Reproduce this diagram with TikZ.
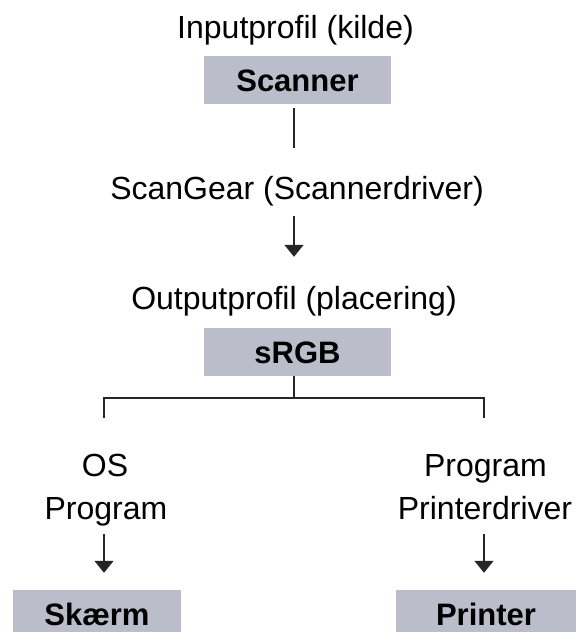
\documentclass[tikz,border=0pt]{standalone}
\usepackage{fontspec}
\setmainfont{Liberation Sans}
\usetikzlibrary{arrows.meta}
\definecolor{boxgray}{RGB}{187,190,202}
\begin{document}
\begin{tikzpicture}[x=1pt,y=-1pt,
  lbl/.style={inner sep=0pt,anchor=base,text height=23pt,text depth=7pt,font=\fontsize{32}{38}\selectfont},
  dev/.style={fill=boxgray,inner sep=0pt,text height=22pt,text depth=0pt,minimum height=48pt,font=\fontsize{31}{37}\selectfont\bfseries},
  link/.style={line width=1.5pt,black!85},
  flow/.style={link,-{Triangle[width=19pt,length=12pt]}}]
\useasboundingbox (0,0) rectangle (576,632);
\coordinate (axis) at (294,0);
\node[lbl] (inprof) at (295.5,38) {Inputprofil (kilde)};
\node[dev,minimum width=187pt] (scanner) at (297.5,80) {Scanner};
\node[lbl] (scangear) at (297,199) {ScanGear (Scannerdriver)};
\node[lbl] (outprof) at (294,309) {Outputprofil (placering)};
\node[dev,minimum width=187pt] (srgb) at (297.5,352) {sRGB};
\coordinate (split) at (294,398);
\coordinate (left) at (104,418);
\coordinate (right) at (484,418);
\node[lbl] (os) at (105,476) {OS};
\node[lbl] (progL) at (106,519) {Program};
\node[lbl] (progR) at (485.5,476) {Program};
\node[lbl] (pdrv) at (485,519) {Printerdriver};
\node[dev,minimum width=168pt] (skaerm) at (97,614) {Skærm};
\node[dev,minimum width=180pt] (printer) at (486,614) {Printer};
% scanner -> sRGB
\draw[link,shorten <=4pt,shorten >=28pt] (scanner.south -| axis) -- (scangear.north -| axis);
\draw[flow,shorten <=10pt,shorten >=29pt] (scangear.south -| axis) -- (outprof.north -| axis);
% split to both outputs
\draw[link] (srgb.south -| split) -- (split);
\draw[link] (left) |- (split) -| (right);
\draw[flow,shorten <=8pt,shorten >=17pt] (progL.south -| left) -- (skaerm.north -| left);
\draw[flow,shorten <=8pt,shorten >=17pt] (pdrv.south -| right) -- (printer.north -| right);
\end{tikzpicture}
\end{document}
